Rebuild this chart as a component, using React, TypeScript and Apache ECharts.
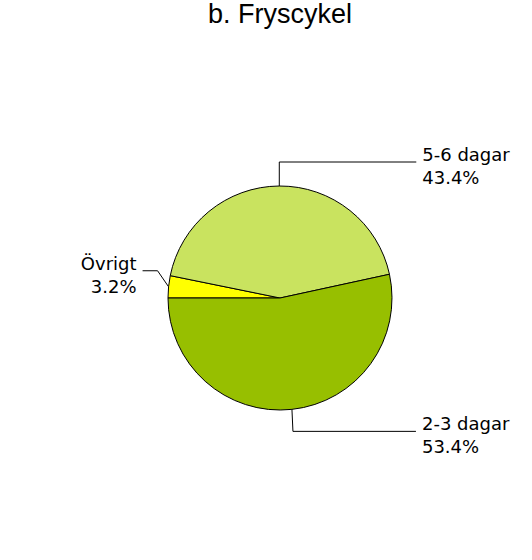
import React, { useEffect, useRef } from 'react';
import * as echarts from 'echarts';

const categories = ['Övrigt', '5-6 dagar', '2-3 dagar'];
const percents = [3.2, 43.4, 53.4];
const colors = ['#FFFF00', '#C9E35F', '#97BF00'];

// leader line shape per slice: first bend offset from slice edge, then horizontal run
const leaders = [
  { bx: -11, by: -16, run: -15 },
  { bx: 0, by: -24, run: 137 },
  { bx: 1, by: 22, run: 123 },
];

const App: React.FC = () => {
  const chartRef = useRef<HTMLDivElement>(null);

  useEffect(() => {
    if (!chartRef.current) return;
    const chart = echarts.init(chartRef.current, undefined, { renderer: 'svg' });

    const option = {
      animation: false,
      backgroundColor: '#ffffff',
      title: {
        text: 'b. Fryscykel',
        left: 280,
        top: 2,
        padding: 0,
        textAlign: 'center',
        textStyle: {
          fontFamily: 'Liberation Sans',
          fontSize: 27,
          lineHeight: 24,
          fontWeight: 'normal',
          color: '#000',
        },
      },
      series: [
        {
          type: 'pie',
          center: [280, 298],
          radius: 112,
          startAngle: 180,
          clockwise: true,
          avoidLabelOverlap: false,
          itemStyle: { borderColor: '#000', borderWidth: 1 },
          label: {
            show: true,
            formatter: (p: any) => `${p.name}\n${p.value.toFixed(1)}%`,
            fontFamily: 'DejaVu Sans',
            fontSize: 18,
            lineHeight: 23,
            color: '#000',
          },
          labelLine: {
            show: true,
            lineStyle: { color: '#000', width: 1 },
          },
          labelLayout: (params: any) => {
            const p0 = params.labelLinePoints ? params.labelLinePoints[0] : [0, 0];
            const l = leaders[params.dataIndex];
            const p1 = [p0[0] + l.bx, p0[1] + l.by];
            const p2 = [p1[0] + l.run, p1[1]];
            const right = l.run > 0;
            return {
              x: p2[0] + (right ? 6 : -6),
              y: p2[1] + 4,
              align: right ? 'left' : 'right',
              verticalAlign: 'middle',
              labelLinePoints: [p0, p1, p2],
            };
          },
          emphasis: { disabled: true },
          data: categories.map((name, i) => ({
            name,
            value: percents[i],
            itemStyle: { color: colors[i] },
          })),
        },
      ],
    };

    chart.setOption(option as any);

    return () => {
      chart.dispose();
    };
  }, []);

  return (
    <div
      ref={chartRef}
      style={{ position: 'fixed', left: 0, top: 0, width: '532px', height: '560px' }}
    ></div>
  );
};

export default App;
